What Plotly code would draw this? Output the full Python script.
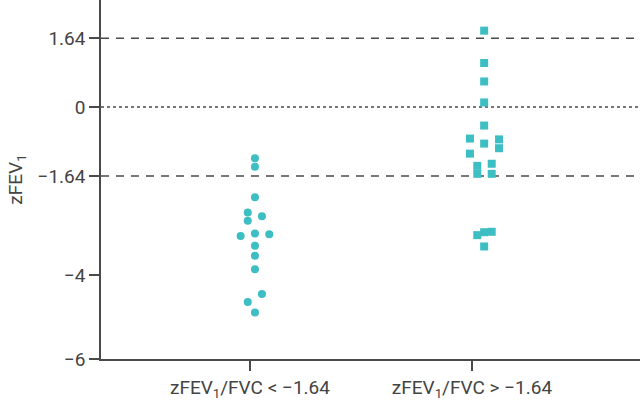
import plotly.graph_objects as go

# Data
categories = ["zFEV<sub>1</sub>/FVC < \u22121.64", "zFEV<sub>1</sub>/FVC > \u22121.64"]
y_ticks = [-6, -4, -1.64, 0, 1.64]
y_tick_labels = ["\u22126", "\u22124", "\u22121.64", "0", "1.64"]

g1_values = [-1.22, -1.42, -2.15, -2.51, -2.60, -2.71, -3.07, -3.01, -3.03,
             -3.30, -3.54, -3.86, -4.45, -4.64, -4.89]
g1_offsets = [0.0225, 0.0225, 0.0225, -0.01, 0.054, -0.01, -0.042, 0.0225, 0.087,
              0.0225, 0.0225, 0.0225, 0.054, -0.01, 0.0225]

g2_values = [1.82, 1.05, 0.61, 0.11, -0.44, -0.75, -0.77, -0.87, -0.98, -1.11,
             -1.35, -1.40, -1.59, -1.59, -2.98, -2.97, -3.05, -3.32]
g2_offsets = [0.055, 0.055, 0.055, 0.055, 0.055, -0.009, 0.122, 0.055, 0.122, -0.009,
              0.089, 0.024, 0.024, 0.089, 0.055, 0.089, 0.024, 0.055]

cutoff = 1.64
teal = "#3CBEC3"
grey = "#4a4a4a"

fig = go.Figure()
fig.add_trace(go.Scatter(
    x=[0 + o for o in g1_offsets], y=g1_values, mode="markers",
    marker=dict(symbol="circle", size=8, color=teal, line=dict(width=0)),
    showlegend=False))
fig.add_trace(go.Scatter(
    x=[1 + o for o in g2_offsets], y=g2_values, mode="markers",
    marker=dict(symbol="square", size=8, color=teal, line=dict(width=0)),
    showlegend=False))

for yv, dash in [(cutoff, "8px,7px"), (-cutoff, "8px,7px"), (0, "dot")]:
    fig.add_shape(type="line", xref="paper", x0=0, x1=1, yref="y", y0=yv, y1=yv,
                  line=dict(color=grey, width=1.5, dash=dash), layer="below")

fig.update_layout(
    width=640, height=405,
    margin=dict(l=101, r=0, t=0, b=46, autoexpand=False),
    plot_bgcolor="white", paper_bgcolor="white",
    font=dict(family="Roboto, Open Sans, sans-serif", color="#444", size=19),
    xaxis=dict(range=[-0.671, 1.757], tickvals=[0, 1], ticktext=categories,
               showgrid=False, zeroline=False, showline=True, linecolor=grey, linewidth=1.5,
               ticks="outside", ticklen=10, tickwidth=1.5, tickcolor=grey,
               tickfont=dict(size=19), automargin=False),
    yaxis=dict(range=[-6, 2.55], tickvals=y_ticks, ticktext=y_tick_labels,
               showgrid=False, zeroline=False, showline=True, linecolor=grey, linewidth=1.5,
               ticks="outside", ticklen=10, tickwidth=1.5, tickcolor=grey,
               tickfont=dict(size=19), automargin=False,
               title=dict(text="zFEV<sub>1</sub>", font=dict(size=19), standoff=10)),
)

fig.write_html("out.html", config={"displayModeBar": False},
               post_script="document.body.style.margin='0';")
